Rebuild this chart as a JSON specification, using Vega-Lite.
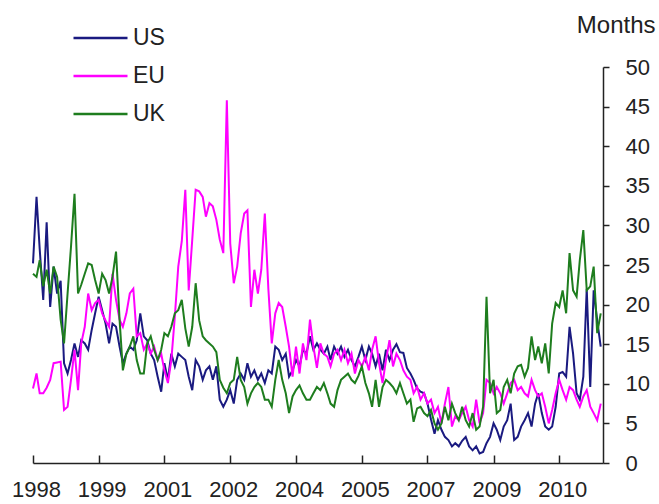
{
  "$schema": "https://vega.github.io/schema/vega-lite/v6.json",
  "width": 570,
  "height": 396,
  "autosize": {"type": "none"},
  "padding": {"left": 33, "top": 67, "right": 56, "bottom": 41},
  "background": "white",
  "config": {"font": "Liberation Sans", "view": {"stroke": null}},
  "data": {"values": [
    {"d":"1998-01","US":25.2,"EU":9.4,"UK":23.9},
    {"d":"1998-02","US":33.6,"EU":11.3,"UK":23.5},
    {"d":"1998-03","US":27,"EU":8.8,"UK":25.6},
    {"d":"1998-04","US":20.6,"EU":8.8,"UK":22.3},
    {"d":"1998-05","US":30.4,"EU":9.5,"UK":24.4},
    {"d":"1998-06","US":19.7,"EU":10.5,"UK":21.4},
    {"d":"1998-07","US":24.8,"EU":12.6,"UK":24.8},
    {"d":"1998-08","US":21.4,"EU":12.7,"UK":23.5},
    {"d":"1998-09","US":23,"EU":12.8,"UK":18.1},
    {"d":"1998-10","US":12.6,"EU":6.7,"UK":15.1},
    {"d":"1998-11","US":11.3,"EU":7.1,"UK":21.4},
    {"d":"1998-12","US":13,"EU":10.5,"UK":27.3},
    {"d":"1999-01","US":15.1,"EU":14.3,"UK":34},
    {"d":"1999-02","US":13.4,"EU":9.2,"UK":21.4},
    {"d":"1999-03","US":15.5,"EU":15.1,"UK":22.5},
    {"d":"1999-04","US":15.1,"EU":17.2,"UK":23.9},
    {"d":"1999-05","US":14.3,"EU":21.4,"UK":25.2},
    {"d":"1999-06","US":16.8,"EU":19.3,"UK":25},
    {"d":"1999-07","US":18.9,"EU":20.2,"UK":23.1},
    {"d":"1999-08","US":21,"EU":20.6,"UK":21.4},
    {"d":"1999-09","US":19.3,"EU":18.9,"UK":23.9},
    {"d":"1999-10","US":17.6,"EU":18,"UK":23.1},
    {"d":"1999-11","US":15.1,"EU":17.2,"UK":21.4},
    {"d":"1999-12","US":17.6,"EU":23.9,"UK":23.5},
    {"d":"2000-01","US":17.2,"EU":20.6,"UK":26.7},
    {"d":"2000-02","US":14.7,"EU":18.1,"UK":18.1},
    {"d":"2000-03","US":12.6,"EU":17.2,"UK":11.7},
    {"d":"2000-04","US":13.8,"EU":18.9,"UK":13.8},
    {"d":"2000-05","US":14.7,"EU":21.4,"UK":14.7},
    {"d":"2000-06","US":14.3,"EU":22,"UK":16},
    {"d":"2000-07","US":15.5,"EU":16,"UK":13},
    {"d":"2000-08","US":18.9,"EU":16.4,"UK":11.3},
    {"d":"2000-09","US":16,"EU":14.3,"UK":11.3},
    {"d":"2000-10","US":15.5,"EU":15.1,"UK":15.1},
    {"d":"2000-11","US":13.8,"EU":13.8,"UK":16},
    {"d":"2000-12","US":13,"EU":14.7,"UK":14.3},
    {"d":"2001-01","US":10.9,"EU":13,"UK":13},
    {"d":"2001-02","US":9,"EU":13.8,"UK":14.3},
    {"d":"2001-03","US":12.6,"EU":11.7,"UK":16.4},
    {"d":"2001-04","US":10.5,"EU":10.1,"UK":16},
    {"d":"2001-05","US":13.8,"EU":13,"UK":17.2},
    {"d":"2001-06","US":12.2,"EU":18.5,"UK":18.9},
    {"d":"2001-07","US":13.8,"EU":24.8,"UK":19.3},
    {"d":"2001-08","US":13.4,"EU":28,"UK":20.6},
    {"d":"2001-09","US":13,"EU":34.5,"UK":17},
    {"d":"2001-10","US":10.9,"EU":21.8,"UK":14.7},
    {"d":"2001-11","US":9.2,"EU":28.2,"UK":17.2},
    {"d":"2001-12","US":13,"EU":34.5,"UK":22.7},
    {"d":"2002-01","US":12.2,"EU":34.3,"UK":18},
    {"d":"2002-02","US":10.5,"EU":33.6,"UK":16},
    {"d":"2002-03","US":11.7,"EU":31.1,"UK":15.5},
    {"d":"2002-04","US":12.2,"EU":32.8,"UK":15.1},
    {"d":"2002-05","US":10.5,"EU":32.4,"UK":14.7},
    {"d":"2002-06","US":12.2,"EU":30.7,"UK":14},
    {"d":"2002-07","US":8,"EU":28.2,"UK":10.5},
    {"d":"2002-08","US":7.1,"EU":26.5,"UK":9.5},
    {"d":"2002-09","US":8,"EU":45.8,"UK":8.8},
    {"d":"2002-10","US":9.2,"EU":27.7,"UK":10.1},
    {"d":"2002-11","US":7.5,"EU":22.7,"UK":10.5},
    {"d":"2002-12","US":10.5,"EU":24.8,"UK":13.4},
    {"d":"2003-01","US":11.3,"EU":29,"UK":10.5},
    {"d":"2003-02","US":10.5,"EU":31.5,"UK":9.6},
    {"d":"2003-03","US":12.6,"EU":31.9,"UK":7.5},
    {"d":"2003-04","US":10.9,"EU":19.7,"UK":8.8},
    {"d":"2003-05","US":11.7,"EU":24.4,"UK":9.6},
    {"d":"2003-06","US":10.5,"EU":21.4,"UK":10.1},
    {"d":"2003-07","US":11.3,"EU":24.4,"UK":9.6},
    {"d":"2003-08","US":10.1,"EU":31.5,"UK":8},
    {"d":"2003-09","US":11.7,"EU":22,"UK":8},
    {"d":"2003-10","US":11.3,"EU":15.1,"UK":7.1},
    {"d":"2003-11","US":14.7,"EU":18.9,"UK":10.5},
    {"d":"2003-12","US":14.3,"EU":20.2,"UK":13},
    {"d":"2004-01","US":13,"EU":19.7,"UK":10.5},
    {"d":"2004-02","US":13.8,"EU":17.2,"UK":8.8},
    {"d":"2004-03","US":10.9,"EU":14.7,"UK":6.3},
    {"d":"2004-04","US":11.7,"EU":10.9,"UK":8.4},
    {"d":"2004-05","US":13,"EU":14.7,"UK":9.2},
    {"d":"2004-06","US":12.2,"EU":11.3,"UK":9.8},
    {"d":"2004-07","US":14.3,"EU":15.1,"UK":8.8},
    {"d":"2004-08","US":13.8,"EU":13,"UK":8},
    {"d":"2004-09","US":16,"EU":18.1,"UK":8},
    {"d":"2004-10","US":14.3,"EU":14.7,"UK":8.8},
    {"d":"2004-11","US":15.1,"EU":12,"UK":9.6},
    {"d":"2004-12","US":14.3,"EU":15.1,"UK":9.2},
    {"d":"2005-01","US":13.8,"EU":13.8,"UK":10.1},
    {"d":"2005-02","US":14.7,"EU":13.4,"UK":8.8},
    {"d":"2005-03","US":13,"EU":12.2,"UK":7.5},
    {"d":"2005-04","US":14.7,"EU":13.8,"UK":7.1},
    {"d":"2005-05","US":13.8,"EU":14.3,"UK":9.2},
    {"d":"2005-06","US":14.7,"EU":13,"UK":10.5},
    {"d":"2005-07","US":13.4,"EU":14.3,"UK":10.9},
    {"d":"2005-08","US":14.3,"EU":12.6,"UK":11.3},
    {"d":"2005-09","US":13,"EU":13.8,"UK":10.5},
    {"d":"2005-10","US":12.2,"EU":11.3,"UK":10.1},
    {"d":"2005-11","US":13.4,"EU":13,"UK":11},
    {"d":"2005-12","US":14.7,"EU":12.2,"UK":12.2},
    {"d":"2006-01","US":13,"EU":13.4,"UK":10.1},
    {"d":"2006-02","US":14.7,"EU":11.7,"UK":8.8},
    {"d":"2006-03","US":13.8,"EU":14.3,"UK":7.1},
    {"d":"2006-04","US":12.2,"EU":16,"UK":10.5},
    {"d":"2006-05","US":13.8,"EU":12.6,"UK":7.1},
    {"d":"2006-06","US":11.7,"EU":10.1,"UK":9.6},
    {"d":"2006-07","US":14.3,"EU":13,"UK":10.5},
    {"d":"2006-08","US":13,"EU":15.5,"UK":10.1},
    {"d":"2006-09","US":14.3,"EU":12.2,"UK":9.6},
    {"d":"2006-10","US":15,"EU":13.8,"UK":8.8},
    {"d":"2006-11","US":14,"EU":13,"UK":10.1},
    {"d":"2006-12","US":13.9,"EU":11.7,"UK":8.8},
    {"d":"2007-01","US":12,"EU":10.9,"UK":7.5},
    {"d":"2007-02","US":11.3,"EU":10.5,"UK":8},
    {"d":"2007-03","US":10.5,"EU":8.8,"UK":5.2},
    {"d":"2007-04","US":9.4,"EU":9.6,"UK":6.9},
    {"d":"2007-05","US":9,"EU":8,"UK":7.1},
    {"d":"2007-06","US":8.8,"EU":8.8,"UK":6.3},
    {"d":"2007-07","US":7.5,"EU":7.5,"UK":5.9},
    {"d":"2007-08","US":5.5,"EU":8,"UK":6.7},
    {"d":"2007-09","US":3.7,"EU":6.3,"UK":5},
    {"d":"2007-10","US":5.4,"EU":7.1,"UK":4.2},
    {"d":"2007-11","US":4.2,"EU":5,"UK":5},
    {"d":"2007-12","US":3.3,"EU":7.5,"UK":7.1},
    {"d":"2008-01","US":2.9,"EU":9.6,"UK":5.4},
    {"d":"2008-02","US":2.1,"EU":4.6,"UK":7.5},
    {"d":"2008-03","US":2.5,"EU":5.9,"UK":6.3},
    {"d":"2008-04","US":2.1,"EU":5.4,"UK":5.4},
    {"d":"2008-05","US":2.8,"EU":6.3,"UK":7.1},
    {"d":"2008-06","US":3.3,"EU":7.1,"UK":5.4},
    {"d":"2008-07","US":2.1,"EU":5.4,"UK":4.6},
    {"d":"2008-08","US":1.6,"EU":4.6,"UK":6.3},
    {"d":"2008-09","US":2.1,"EU":8,"UK":4.2},
    {"d":"2008-10","US":1.2,"EU":5,"UK":4.6},
    {"d":"2008-11","US":1.4,"EU":6.3,"UK":7.1},
    {"d":"2008-12","US":2.5,"EU":10.5,"UK":21},
    {"d":"2009-01","US":3.3,"EU":10.1,"UK":8.8},
    {"d":"2009-02","US":5,"EU":8.8,"UK":10.5},
    {"d":"2009-03","US":4.2,"EU":9.6,"UK":6.3},
    {"d":"2009-04","US":2.9,"EU":8.8,"UK":6.7},
    {"d":"2009-05","US":4.6,"EU":7.5,"UK":9.6},
    {"d":"2009-06","US":5.4,"EU":8.8,"UK":10.5},
    {"d":"2009-07","US":7.5,"EU":10.1,"UK":8.8},
    {"d":"2009-08","US":2.9,"EU":10.5,"UK":11.3},
    {"d":"2009-09","US":3.3,"EU":9.2,"UK":12.2},
    {"d":"2009-10","US":4.6,"EU":9.6,"UK":12.4},
    {"d":"2009-11","US":5.4,"EU":8.8,"UK":10.9},
    {"d":"2009-12","US":6.3,"EU":8.4,"UK":12},
    {"d":"2010-01","US":4.6,"EU":10.5,"UK":16},
    {"d":"2010-02","US":7.5,"EU":9.2,"UK":13},
    {"d":"2010-03","US":8.8,"EU":8.4,"UK":14.7},
    {"d":"2010-04","US":6.3,"EU":8.8,"UK":12.6},
    {"d":"2010-05","US":4.6,"EU":7.1,"UK":15.1},
    {"d":"2010-06","US":4.2,"EU":5,"UK":11.3},
    {"d":"2010-07","US":4.6,"EU":6.7,"UK":17.6},
    {"d":"2010-08","US":7.1,"EU":8.8,"UK":20.2},
    {"d":"2010-09","US":11.3,"EU":10.5,"UK":19.7},
    {"d":"2010-10","US":11.5,"EU":9.2,"UK":21.8},
    {"d":"2010-11","US":10.9,"EU":8,"UK":18.9},
    {"d":"2010-12","US":17.2,"EU":9.6,"UK":26.5},
    {"d":"2011-01","US":13.8,"EU":9.2,"UK":21.8},
    {"d":"2011-02","US":8.8,"EU":8,"UK":21},
    {"d":"2011-03","US":8,"EU":7.1,"UK":25.6},
    {"d":"2011-04","US":10.9,"EU":8.4,"UK":29.4},
    {"d":"2011-05","US":22,"EU":9.2,"UK":21.8},
    {"d":"2011-06","US":9.6,"EU":7.1,"UK":22.3},
    {"d":"2011-07","US":21.8,"EU":6.3,"UK":24.8},
    {"d":"2011-08","US":18,"EU":5.4,"UK":16.4},
    {"d":"2011-09","US":14.7,"EU":7.5,"UK":18.9}
  ]},
  "transform": [{"fold": ["US", "EU", "UK"], "as": ["series", "value"]}],
  "mark": {"type": "line", "strokeWidth": 2},
  "encoding": {
    "x": {
      "field": "d",
      "type": "temporal",
      "scale": {"type": "utc", "domain": [{"year": 1998, "month": 1, "date": 1, "utc": true}, {"year": 2011, "month": 9, "date": 21, "utc": true}]},
      "axis": {
        "values": [
          {"year": 1998, "month": 1, "date": 1, "utc": true},
          {"year": 1999, "month": 8, "date": 1, "utc": true},
          {"year": 2001, "month": 3, "date": 1, "utc": true},
          {"year": 2002, "month": 10, "date": 1, "utc": true},
          {"year": 2004, "month": 5, "date": 1, "utc": true},
          {"year": 2005, "month": 12, "date": 1, "utc": true},
          {"year": 2007, "month": 7, "date": 1, "utc": true},
          {"year": 2009, "month": 2, "date": 1, "utc": true},
          {"year": 2010, "month": 9, "date": 1, "utc": true}
        ],
        "labelExpr": "utcFormat(datum.value, '%Y')",
        "title": null,
        "grid": false,
        "domainColor": "#222222",
        "domainWidth": 1.5,
        "tickColor": "#222222",
        "tickWidth": 1.5,
        "tickSize": -8,
        "labelPadding": 24,
        "labelFontSize": 22,
        "labelColor": "#222222",
        "labelOffset": 3,
        "labelFlush": false,
        "labelOverlap": false
      }
    },
    "y": {
      "field": "value",
      "type": "quantitative",
      "scale": {"domain": [0, 50], "nice": false},
      "axis": {
        "orient": "right",
        "values": [0, 5, 10, 15, 20, 25, 30, 35, 40, 45, 50],
        "title": "Months",
        "titleAngle": 0,
        "titleAlign": "right",
        "titleBaseline": "alphabetic",
        "titleX": 52,
        "titleY": -35,
        "titleFontSize": 24,
        "titleFontWeight": "normal",
        "titleColor": "#222222",
        "grid": false,
        "domainColor": "#222222",
        "domainWidth": 1.5,
        "tickColor": "#222222",
        "tickWidth": 1.5,
        "tickSize": 6,
        "labelPadding": 16,
        "labelFontSize": 22,
        "labelColor": "#222222",
        "labelAlign": "left",
        "labelBaseline": "middle"
      }
    },
    "color": {
      "field": "series",
      "type": "nominal",
      "scale": {"domain": ["US", "EU", "UK"], "range": ["#1a1a80", "#ff00ff", "#1e7d1e"]},
      "legend": {
        "orient": "none",
        "legendX": 39,
        "legendY": -47,
        "title": null,
        "padding": 0,
        "symbolType": "stroke",
        "symbolSize": 2916,
        "symbolStrokeWidth": 2.5,
        "labelFontSize": 23,
        "labelColor": "#222222",
        "labelOffset": 4,
        "clipHeight": 36,
        "rowPadding": 2
      }
    }
  }
}
